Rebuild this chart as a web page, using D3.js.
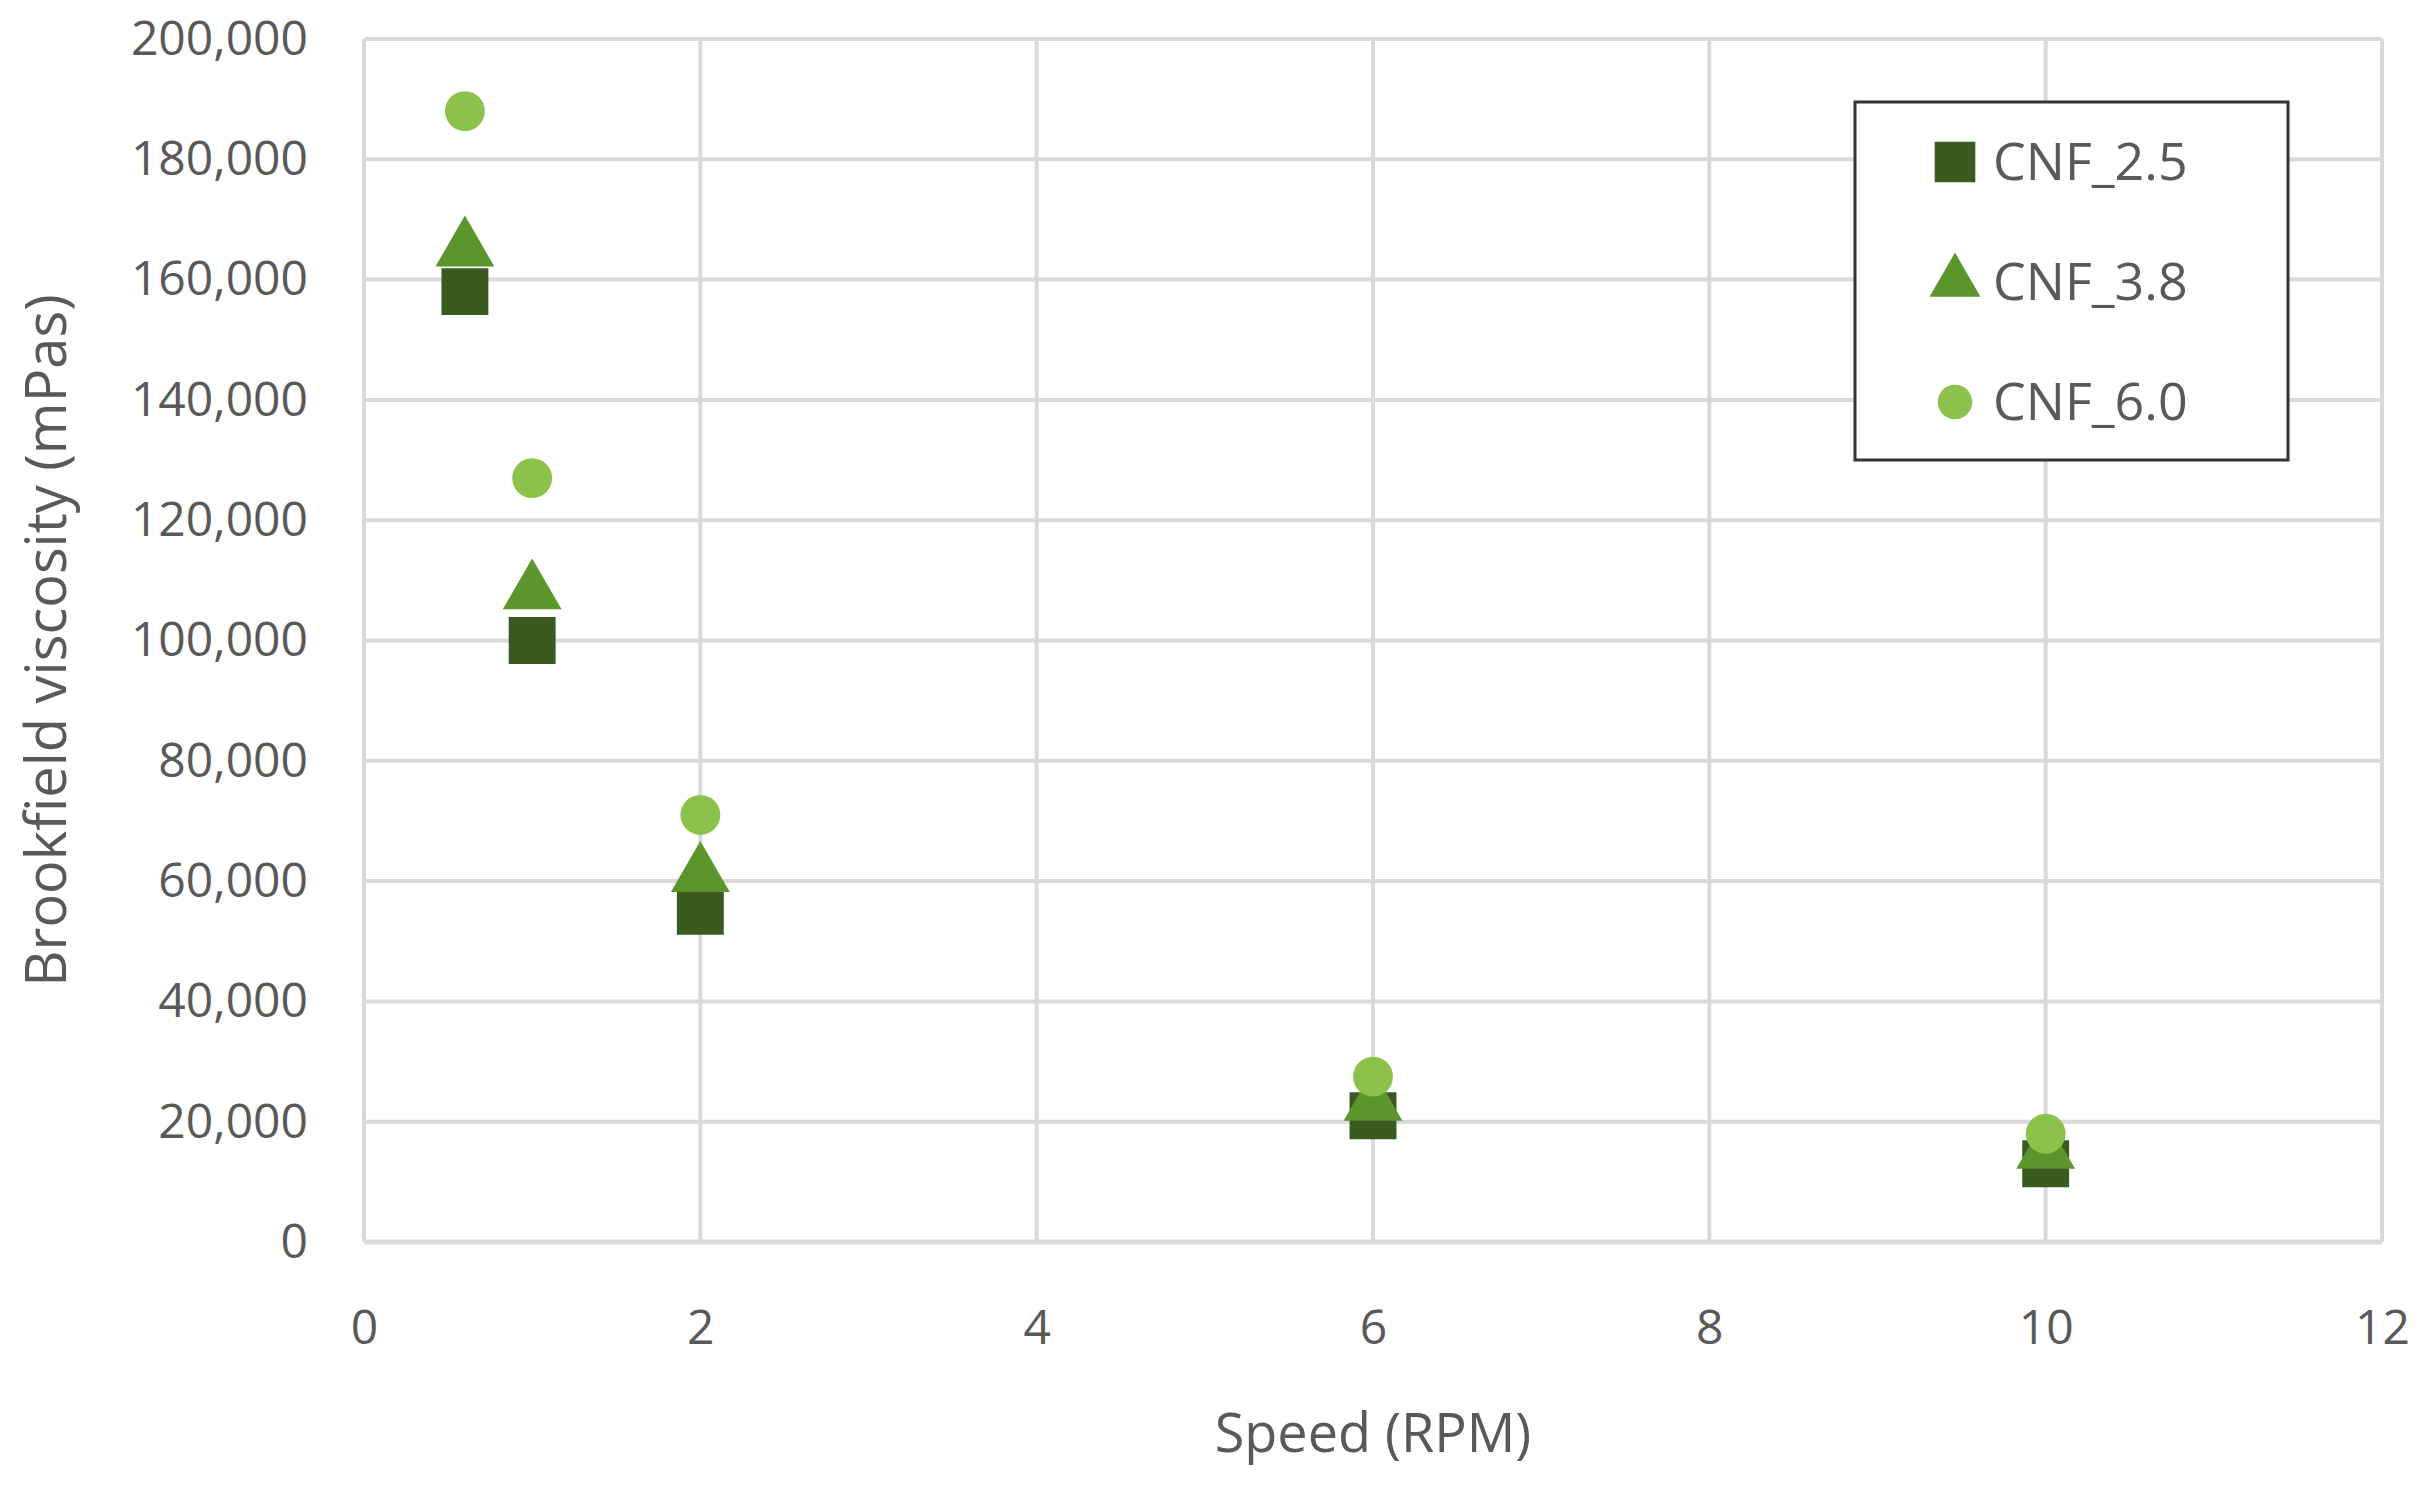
<!DOCTYPE html>
<html><head><meta charset="utf-8">
<script src="https://cdn.jsdelivr.net/npm/d3@7"></script>
<style>body{margin:0;background:#fff}text{font-family:"Open Sans",sans-serif;fill:#595959}</style>
</head><body><svg id="c" width="2430" height="1490"></svg>
<script>
const speeds = [0.6, 1, 2, 6, 10];
const cnf25 = [158000, 100000, 55000, 21000, 13000];
const cnf38 = [165000, 108000, 61000, 23000, 15000];
const cnf60 = [188000, 127000, 71000, 27500, 18000];
const seriesNames = ["CNF_2.5", "CNF_3.8", "CNF_6.0"];
const xTicks = [0, 2, 4, 6, 8, 10, 12];
const yTicks = d3.range(0, 200001, 20000);

const svg = d3.select("#c");
const m = {left: 364, right: 2382, top: 39, bottom: 1242};
const x = d3.scaleLinear().domain([0, 12]).range([m.left, m.right]);
const y = d3.scaleLinear().domain([0, 200000]).range([m.bottom, m.top]);

const series = [
    {name: seriesNames[0], values: cnf25, color: "#3a5a1f", symbol: d3.symbolSquare, size: 2200},
    {name: seriesNames[1], values: cnf38, color: "#5b962c", symbol: d3.symbolTriangle, size: 1500},
    {name: seriesNames[2], values: cnf60, color: "#8cc24c", symbol: d3.symbolCircle, size: 1250}
];

// grid
svg.append("g").selectAll("line").data(yTicks).join("line")
    .attr("x1", m.left).attr("x2", m.right)
    .attr("y1", d => y(d)).attr("y2", d => y(d))
    .attr("stroke", "#d9d9d9").attr("stroke-width", 4);
svg.append("g").selectAll("line").data(xTicks).join("line")
    .attr("y1", m.top).attr("y2", m.bottom)
    .attr("x1", d => x(d)).attr("x2", d => x(d))
    .attr("stroke", "#d9d9d9").attr("stroke-width", 4);

const yAxis = svg.append("g").attr("transform", `translate(${m.left},0)`)
    .call(d3.axisLeft(y).tickValues(yTicks).tickSize(0).tickPadding(56).tickFormat(d3.format(",")));
const xAxis = svg.append("g").attr("transform", `translate(0,${m.bottom})`)
    .call(d3.axisBottom(x).tickValues(xTicks).tickSize(0).tickPadding(68));
[yAxis, xAxis].forEach(a => {
    a.select(".domain").remove();
    a.selectAll("text").attr("font-size", 48).attr("font-family", "Open Sans").attr("fill", "#595959");
});
svg.append("line").attr("x1", m.left).attr("x2", m.right).attr("y1", m.bottom).attr("y2", m.bottom)
    .attr("stroke", "#d9d9d9").attr("stroke-width", 5);

svg.append("text").attr("x", (m.left + m.right) / 2).attr("y", 1452)
    .attr("text-anchor", "middle").attr("font-size", 54).text("Speed (RPM)");
svg.append("text").attr("transform", `translate(66,${(m.top + m.bottom) / 2}) rotate(-90)`)
    .attr("text-anchor", "middle").attr("font-size", 56).text("Brookfield viscosity (mPas)");

series.forEach(s => {
    svg.append("g").selectAll("path").data(s.values).join("path")
        .attr("transform", (d, i) => `translate(${x(speeds[i])},${y(d)})`)
        .attr("d", d3.symbol(s.symbol, s.size))
        .attr("fill", s.color);
});

// legend
const lg = svg.append("g").attr("transform", "translate(1855,102)");
lg.append("rect").attr("width", 433).attr("height", 358).attr("fill", "#fff")
    .attr("stroke", "#333").attr("stroke-width", 3);
series.forEach((s, i) => {
    const row = lg.append("g").attr("transform", `translate(100,${60 + i * 120})`);
    row.append("path").attr("d", d3.symbol(s.symbol, s.size * 0.75)).attr("fill", s.color);
    row.append("text").attr("x", 38).attr("y", 18).attr("font-size", 52).text(s.name);
});
</script></body></html>
